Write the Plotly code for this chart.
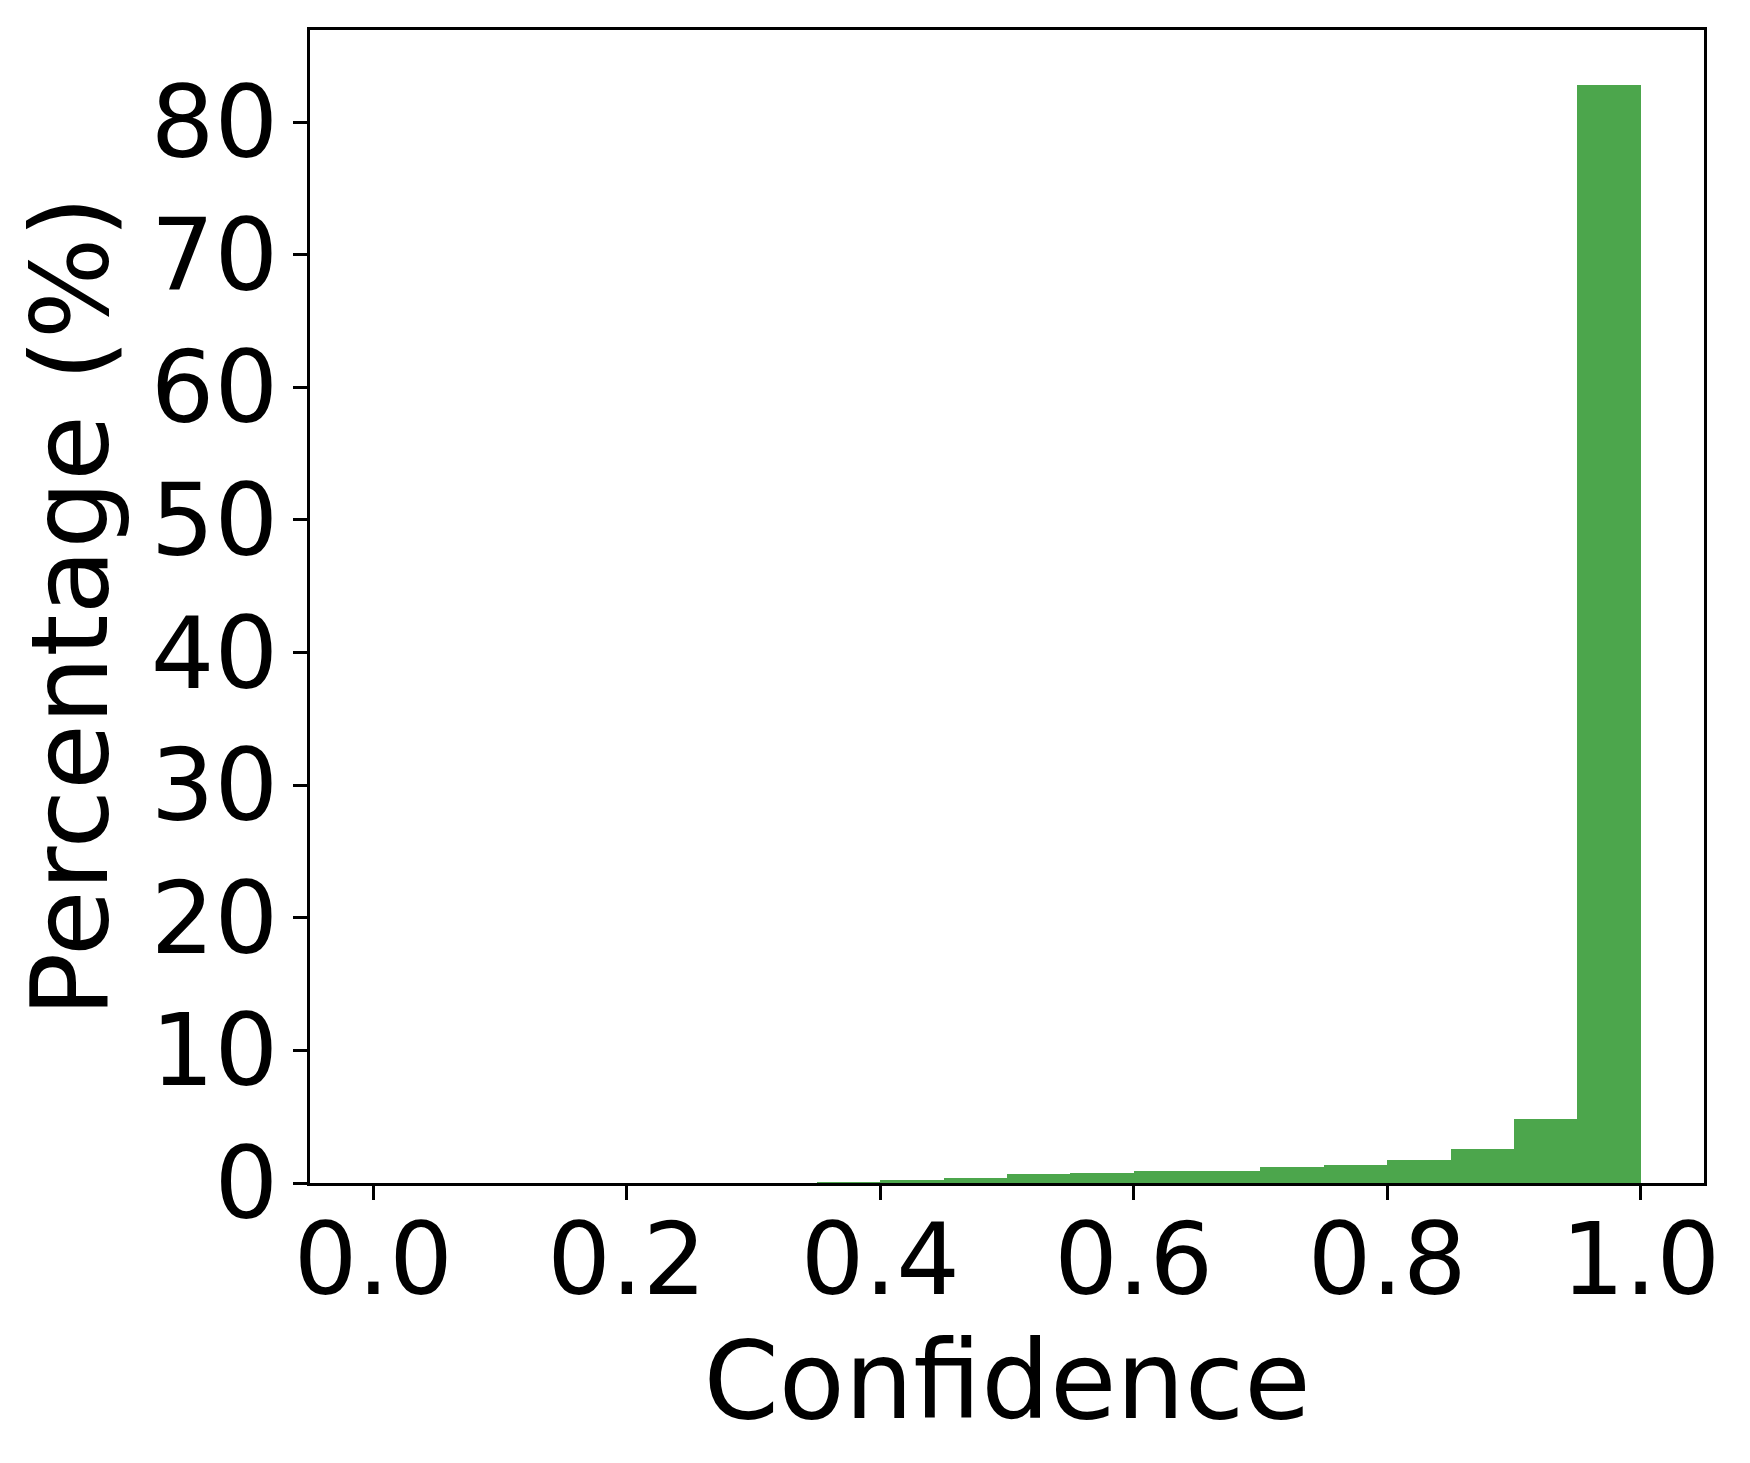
import plotly.graph_objects as go

# Histograma de confiança: 20 bins de largura 0.05 entre 0 e 1
bin_centros = [0.025, 0.075, 0.125, 0.175, 0.225, 0.275, 0.325, 0.375, 0.425, 0.475,
               0.525, 0.575, 0.625, 0.675, 0.725, 0.775, 0.825, 0.875, 0.925, 0.975]
percentuais = [0.0, 0.0, 0.0, 0.0, 0.0, 0.0, 0.0, 0.05, 0.19, 0.41,
               0.70, 0.79, 0.89, 0.94, 1.17, 1.39, 1.70, 2.60, 4.86, 82.8]
largura_bin = 0.05

x_ticks = [0.0, 0.2, 0.4, 0.6, 0.8, 1.0]
x_ticktext = ['0.0', '0.2', '0.4', '0.6', '0.8', '1.0']
y_ticks = [0, 10, 20, 30, 40, 50, 60, 70, 80]

fonte = 'DejaVu Sans'
cor_barra = '#4ca64c'

fig = go.Figure()

fig.add_trace(go.Bar(
    x=bin_centros,
    y=percentuais,
    width=largura_bin,
    marker=dict(color=cor_barra, line=dict(width=0)),
    hovertemplate='<b>%{x}</b><br>%{y:.2f}%<extra></extra>'
))

eixo_comum = dict(
    showline=True,
    linecolor='black',
    linewidth=2.8,
    mirror=True,
    showgrid=False,
    zeroline=False,
    ticks='outside',
    ticklen=14,
    tickwidth=2.5,
    tickcolor='black',
    tickfont=dict(family=fonte, size=100, color='black'),
)

fig.update_xaxes(
    range=[-0.05, 1.05],
    tickvals=x_ticks,
    ticktext=x_ticktext,
    ticklabelstandoff=-26,
    title=dict(text='Confidence', font=dict(family=fonte, size=108, color='black'), standoff=6),
    **eixo_comum
)
fig.update_yaxes(
    range=[0, 86.94],
    tickvals=y_ticks,
    ticklabelstandoff=-5,
    title=dict(text='Percentage (%)', font=dict(family=fonte, size=107, color='black'), standoff=14),
    **eixo_comum
)

# a página tem 8px de margem no body; margens compensadas
fig.update_layout(
    width=1750,
    height=1463,
    bargap=0,
    showlegend=False,
    margin=dict(t=22, b=288, l=302, r=54),
    paper_bgcolor='white',
    plot_bgcolor='white',
)

fig.write_html("out.html")
